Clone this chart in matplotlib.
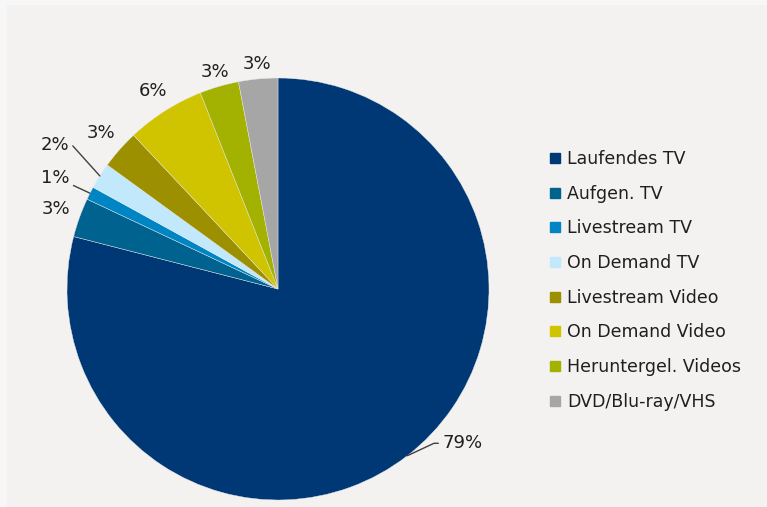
import numpy as np
import matplotlib.pyplot as plt
from matplotlib.lines import Line2D
from matplotlib.patches import Rectangle

# --- data ---
categories = ["Laufendes TV", "Aufgen. TV", "Livestream TV", "On Demand TV",
              "Livestream Video", "On Demand Video", "Heruntergel. Videos",
              "DVD/Blu-ray/VHS"]
shares = [79, 3, 1, 2, 3, 6, 3, 3]
colors = ["#003876", "#00628f", "#0085c4", "#c2e8fb",
          "#9c8f00", "#d0c400", "#a3b100", "#a6a6a6"]

# label placement: radius factor, angle shift (deg), leader line (relpos, angleB)
label_r = [1.14, 1.12, 1.18, 1.26, 1.12, 1.11, 1.07, 1.07]
label_dang = [12.3, 0, 0.5, -0.5, 0, 0, 0, 0]
leader = [((0, 0.5), 25), None, ((1, 0.5), -25), ((1, 0.5), -48),
          None, None, None, None]

W, H = 767, 507
fig = plt.figure(figsize=(W / 100, H / 100), dpi=100)
fig.patch.set_facecolor("#f7f7f7")
fig.patches.append(Rectangle((7 / W, 0), 1 - 7 / W, 1 - 5 / H,
                             transform=fig.transFigure, facecolor="#f3f2f0",
                             edgecolor="none", zorder=-5))

ax = fig.add_axes([0, 0, 1, 1])
ax.set_zorder(2)
ax.patch.set_visible(False)

cx, cy, R = 278, H - 289, 211
wedges, _ = ax.pie(shares, colors=colors, startangle=90, counterclock=False,
                   center=(cx, cy), radius=R, frame=True,
                   wedgeprops=dict(edgecolor="#e9e9e9", linewidth=0.3))
ax.set_xlim(0, W)
ax.set_ylim(0, H)
ax.set_aspect("equal")
ax.axis("off")

txt_color = "#1f1f1f"
for w, pct, rf, da, ld in zip(wedges, shares, label_r, label_dang, leader):
    mid = np.deg2rad((w.theta1 + w.theta2) / 2)
    ex, ey = cx + R * np.cos(mid), cy + R * np.sin(mid)
    ang = mid + np.deg2rad(da)
    tx, ty = cx + rf * R * np.cos(ang), cy + rf * R * np.sin(ang)
    if ld is None:
        ax.text(tx, ty, f"{pct}%", ha="center", va="center",
                fontsize=13, color=txt_color)
    else:
        rel, angb = ld
        ax.annotate(f"{pct}%", xy=(ex, ey), xytext=(tx, ty),
                    ha="center", va="center", fontsize=13, color=txt_color,
                    arrowprops=dict(arrowstyle="-", color="#404040", lw=1.0,
                                    relpos=rel, shrinkA=1, shrinkB=0,
                                    connectionstyle=f"angle,angleA=0,angleB={angb},rad=0"))

handles = [Line2D([], [], linestyle="none", marker="s", markersize=7,
                  markerfacecolor=c, markeredgecolor=c) for c in colors]
fig.legend(handles, categories, loc="upper left",
           bbox_to_anchor=(550 / W, 1 - 150 / H), frameon=False,
           fontsize=12.5, labelspacing=0.96, handlelength=0.6,
           handletextpad=0.38, borderpad=0, borderaxespad=0,
           labelcolor=txt_color)

fig.savefig("out.png", dpi=100, facecolor=fig.get_facecolor())
